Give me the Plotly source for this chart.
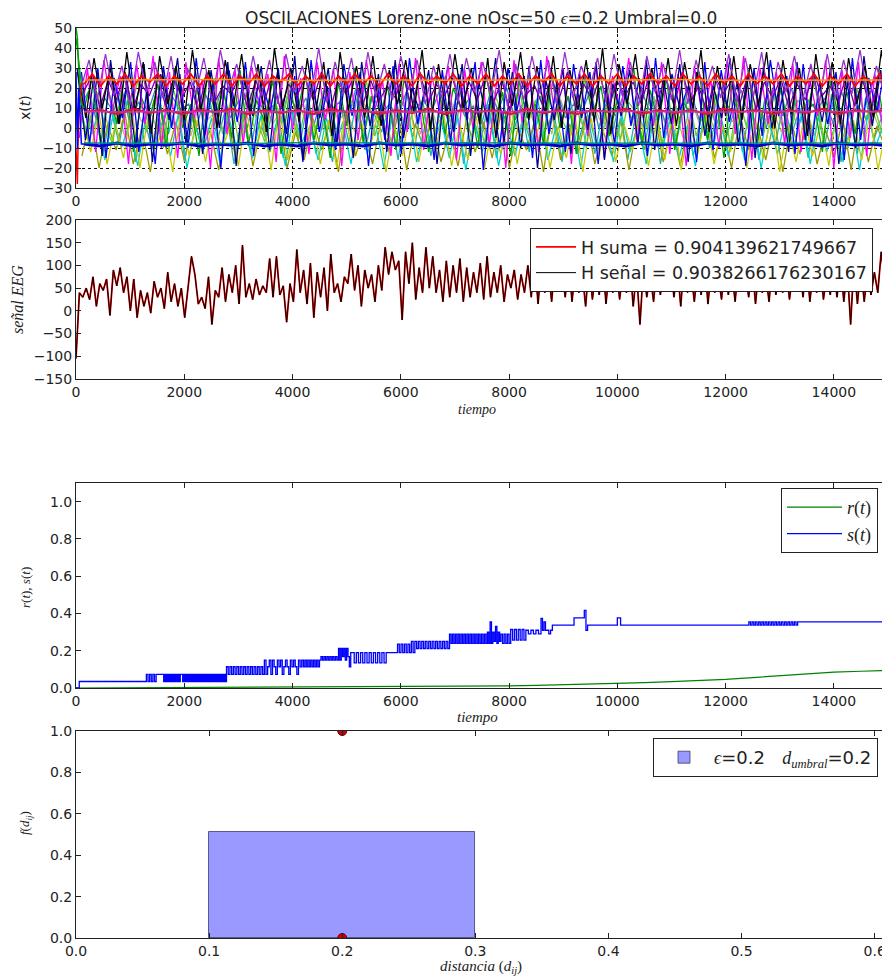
import numpy as np
import plotly.graph_objects as go

W, H = 890, 978
OFF = 8                     # page body margin of the browser
T_MAX = 15000

# ---------------- Panel 1: oscillators x(t) (values read/estimated from picture) ----------------
osc_purple = ("20 34 14 37 16 31 12 38 18 33 15 36 11 30 17 35 13 39 19 32 14 36 16 34 12 37 18 31 15 40 "
              "13 33 17 35 11 38 16 32 14 36 19 34 12 31 15 37 13 35 18 33 16 39 11 32 14 36 17 34 12 38 "
              "15 31 19 35 13 37 16 33 11 36 18 32 14 39 12 34 17 31 15 37 13 35 16 38 11 33 18 36 14 32 "
              "12 37 15 34 17 39 13 31 16 35")
osc_black = ("28 5 35 10 30 2 38 8 33 -3 36 12 31 4 39 9 29 0 34 11 37 6 32 -2 40 10 30 3 35 7 "
             "33 -4 38 9 31 5 36 1 29 12 34 8 39 -1 32 6 37 10 30 2 35 -5 33 11 38 4 31 7 36 0 "
             "29 9 34 3 40 -3 32 12 37 5 30 8 35 1 33 10 39 -2 31 6 36 4 32 11 38 0 34 7 30 -4 "
             "37 9 33 2 35 12 31 5 39 8")
osc_blue = ("28 -8 30 -15 25 5 33 -12 20 -18 31 0 27 -10 35 -5 22 -20 29 3 33 -14 24 8 30 -9 26 -17 34 -2 "
            "21 -11 32 6 28 -19 25 -6 31 -13 35 2 23 -16 29 -7 27 4 33 -21 20 -10 30 7 26 -15 34 -3 24 -12 "
            "32 5 28 -18 22 -8 31 1 25 -14 35 -5 27 9 21 -17 33 -11 29 3 24 -19 30 -4 34 6 26 -13 32 -9 "
            "23 2 28 -16 35 -6 25 8 31 -20")
osc_magenta = ("-5 30 -12 34 8 26 -18 32 2 36 -10 28 -15 33 5 24 -20 35 -3 29 -8 31 10 27 -17 36 -1 25 -13 33 "
               "4 30 -19 28 -6 34 9 23 -14 32 -2 35 -11 26 7 31 -16 29 0 33 -9 27 -20 34 3 25 -12 36 6 30 "
               "-18 28 -4 32 -15 26 8 35 -7 29 1 33 -13 27 -19 31 5 24 -10 34 -3 36 -16 30 2 28 -8 32 -12 25 "
               "6 34 -20 29 -5 33 -14 27 0 31")
osc_yellow = ("5 -12 8 -18 2 -15 10 -20 6 -10 3 -22 9 -14 4 -17 7 -11 1 -19 8 -13 5 -21 10 -16 2 -12 6 -18 "
              "4 -20 9 -15 3 -11 7 -22 1 -14 10 -17 5 -12 8 -19 2 -16 6 -21 3 -13 9 -18 4 -10 7 -20 1 -15 "
              "8 -22 5 -14 10 -17 2 -11 6 -19 4 -16 9 -21 3 -13 7 -18 1 -12 10 -20 5 -15 8 -22 2 -17 6 -14 "
              "3 -19 9 -11 4 -16 7 -21 1 -13")
osc_cyan = ("10 -6 4 -16 7 -10 2 -19 6 -8 3 -14 8 -20 1 -11 5 -17 7 -9 2 -15 6 -12 4 -19 8 -7 1 -16 "
            "5 -10 3 -18 7 -13 2 -20 6 -11 8 -17 1 -9 4 -15 6 -21 3 -12 7 -19 2 -14 5 -8 8 -16 1 -13 "
            "4 -20 6 -10 3 -17 7 -12 2 -18 8 -9 5 -15 1 -19 6 -11 4 -14 3 -16 7 -20 2 -13 5 -10 8 -18 "
            "6 -12 1 -17 4 -21 7 -9 3 -15")
osc_green = ("45 10 25 -8 18 2 28 -12 15 5 22 -10 30 0 12 -14 26 6 19 -5 29 -9 14 3 24 -13 17 8 27 -6 "
             "11 -15 23 1 30 -7 16 4 21 -11 25 7 13 -12 28 -3 20 9 15 -10 27 2 18 -14 24 5 12 -8 29 0 "
             "16 -13 26 6 21 -4 14 8 30 -9 19 3 25 -11 13 7 28 -6 17 -15 23 1 29 -10 15 4 20 -7 26 9 "
             "12 -12 24 5 18 -3 27 2 16 -8")
osc_teal = ("15 -5 12 -14 9 -8 14 -17 6 -11 11 -3 13 -16 8 -10 15 -6 10 -18 7 -12 12 -4 14 -15 9 -9 13 -13 "
            "6 -17 11 -7 15 -11 8 -2 12 -16 10 -10 14 -14 7 -6 13 -18 9 -8 12 -15 6 -3 11 -12 15 -9 8 -17 "
            "14 -7 9 -13 10 -4 12 -16 7 -11 13 -18 8 -6 15 -14 6 -10 11 -5 9 -12 14 -16 7 -8 12 -3 10 -15 "
            "11 -9 13 -17 8 -13 15 -6 6 -12")
osc_khaki = ("2 12 -3 14 0 10 -5 13 3 9 -2 15 1 11 -4 12 4 8 -1 14 0 10 -3 13 2 9 -5 15 3 11 "
             "-1 12 4 8 -2 14 0 10 -4 13 3 11 -3 15 1 9 -1 12 4 10 -5 14 2 8 -2 13 0 11 -3 15 "
             "4 9 -1 12 3 10 -4 14 1 8 -2 13 0 11 -5 15 2 9 -3 12 3 10 -1 14 4 8 -2 13 0 11 "
             "-4 15 1 9 -3 12 2 10 -1 14")
osc_violet = ("18 26 10 24 14 28 9 22 16 27 11 25 15 23 8 28 13 21 17 26 10 24 12 27 9 22 16 25 14 28 "
              "8 23 17 26 11 24 13 21 15 27 9 28 12 22 16 25 10 23 14 26 13 24 8 27 17 21 11 25 15 28 "
              "10 22 14 26 9 24 16 23 12 27 15 25 11 28 13 21 8 26 17 24 12 27 9 23 15 25 10 22 14 28 "
              "16 21 13 26 11 24 8 27 12 23")
osc_navy = ("30 -6 26 -14 34 2 23 -10 32 -17 27 4 35 -8 21 -13 29 0 33 -19 24 6 31 -11 28 -3 36 -16 22 5 "
            "30 -9 25 -15 33 1 27 -12 34 -5 20 7 29 -18 26 -2 32 -14 23 3 35 -7 28 -10 31 -20 24 4 30 -13 "
            "27 -1 33 -16 22 6 29 -8 34 -11 25 2 32 -17 28 -4 21 5 35 -9 26 -15 31 0 24 -12 33 -6 27 3 "
            "30 -18 23 -10 36 1 29 -14")
osc_olive = ("-14 6 -20 2 -11 8 -18 0 -22 5 -13 3 -17 7 -10 -1 -21 4 -15 8 -19 1 -12 6 -20 -2 -16 5 -11 3 "
             "-22 7 -14 0 -18 4 -13 8 -21 2 -10 6 -17 -1 -19 5 -12 3 -15 7 -20 0 -11 4 -22 8 -16 2 -13 6 "
             "-18 -2 -14 5 -21 3 -10 7 -17 1 -19 4 -12 8 -15 0 -20 6 -11 2 -16 5 -22 3 -13 7 -18 -1 -14 4 "
             "-21 8 -17 1 -10 6")
osc_lime = ("12 -4 20 3 -8 18 6 24 -2 15 -10 22 8 -6 19 1 25 -3 14 -9 21 5 -7 17 2 23 -5 13 -1 20 "
            "7 -10 16 4 24 -4 11 -8 22 0 18 6 -6 15 3 25 -2 12 -9 19 8 -5 21 1 14 -7 23 5 -3 17 "
            "-10 20 2 24 -6 13 7 -1 16 -8 22 4 18 -4 11 6 25 -9 15 0 21 -2 19 3 -7 14 8 23 -5 17 "
            "1 -10 20 5 12 -3 24")
osc_steel = ("10 18 4 15 8 20 2 13 6 19 3 16 9 12 1 17 7 20 5 14 0 18 8 11 3 19 6 15 2 17 "
             "9 13 4 20 1 16 7 12 5 18 0 14 8 19 3 15 6 11 2 17 9 20 4 13 7 16 1 18 5 12 "
             "8 19 0 14 6 17 3 20 9 15 2 11 7 18 4 16 1 13 8 19 5 12 0 17 6 20 3 14 9 15 "
             "2 18 7 11 4 16 1 19")
band_red = ("22 27 21 26 22 27 21 26 23 27 21 26 22 27 21 26 22 27 21 26 22 27 21 26 23 27 21 26 22 "
            "27 21 26 22 27 22 26 21 27 22 26 21 27 22 26 22 27 21 26 22 27 21 26 22 27 21 26 23 27 21 "
            "26 22 27 21 26 22 27 21 26 22 27 22 26 21 27 22 26 21 27 22 26 21 27 22 26 22 27 21 26 22 "
            "27 21 26 22 27 21 26 22 27 21")
band_orange = "24 24.1 23.9 24 24.2 23.8 24 24.1 23.9 24 24 24.1 23.9 24 24.2 23.9 24 24 24.1 24"
band_crimson = ("8 9 7 9.5 7.5 9 7 9 8 9.5 7 9 7.5 9 7 9.5 8 9 7 9 7.5 9.5 7 9 8 9 7 9.5 7.5 9 "
                "7 9 8 9.5 7 9 7.5 9 7 9.5 8 9 7 9 7.5 9.5 7 9 8 9")
band_pink = "8.2 8 8.3 8.1 8 8.2 8.1 8.3 8 8.2 8.1 8 8.2 8.3 8.1 8 8.2 8.1 8 8.2"
band_blue = ("-8 -9 -7.5 -9 -8 -8.5 -7.5 -9 -8 -8.5 -7.5 -9 -8 -9 -7.5 -8.5 -8 -9 -7.5 -8.5 -8 -9 -7.5 -8.5 -8 "
             "-9 -7.5 -8.5 -8 -9 -7.5 -8.5 -8 -9 -7.5 -8.5 -8 -9 -7.5 -8.5 -8 -9 -7.5 -8.5 -8 -9 -7.5 -8.5 -8 -9")
band_teal = "-7.5 -7.6 -7.4 -7.5 -7.7 -7.4 -7.5 -7.6 -7.5 -7.4 -7.5 -7.6 -7.4 -7.5 -7.6 -7.5 -7.4 -7.5 -7.6 -7.5"

transient_t = [0, 25, 50, 100, 150]
transient_green = [50, 45, 30, 12, 10]
transient_red = [-10, -28, 10, 22, 22]
transient_blue = [28, -10, 20, -8, -8]

# ---------------- Panel 2: EEG signal ----------------
eeg_signal_blocks = [
    "-105 40 30 50 25 75 10 60 45 70 -10 90 55 95 40 75",
    "0 70 -15 45 10 40 -5 65 30 50 5 85 20 60 10 50",
    "-15 55 120 80 15 30 5 75 -30 45 30 95 20 80 40 100",
    "15 145 30 60 25 70 35 55 40 115 30 120 35 55 -25 60",
    "20 135 40 90 15 105 -15 85 30 95 0 125 40 60 20 75",
    "60 125 45 100 10 90 50 80 20 100 45 140 80 130 90 110",
    "-20 130 60 150 25 95 40 140 50 120 40 90 20 110 30 100",
    "40 115 20 95 30 85 40 105 25 120 30 85 40 100 20 80",
    "50 90 25 80 40 100 30 115 15 105 40 95 20 110 45 90",
    "30 110 20 95 40 85 10 100 25 90 35 115 15 95 40 105",
    "25 90 40 110 10 85 -30 95 30 80 20 105 35 90 45 100",
    "30 95 10 110 40 85 20 100 35 115 15 90 40 80 25 105",
    "35 90 20 100 45 85 30 110 15 95 40 80 20 105 35 90",
    "40 100 25 85 45 95 30 110 20 90 40 115 25 85 35 100",
    "30 105 20 95 -30 110 15 100 20 90 35 85 40 130 70 150",
]
H_suma = 0.904139621749667
H_senal = 0.9038266176230167

# ---------------- Panel 3: r(t), s(t) ----------------
r_t = [0, 1000, 2000, 3000, 4000, 5000, 6000, 7000, 8000, 8500, 9000, 9500, 10000, 10500,
       11000, 11500, 12000, 12500, 13000, 13500, 14000, 14500, 15000]
r_v = [0, 0.001, 0.002, 0.003, 0.004, 0.005, 0.006, 0.008, 0.011, 0.014, 0.017, 0.021, 0.025,
       0.029, 0.034, 0.039, 0.046, 0.056, 0.066, 0.076, 0.085, 0.09, 0.094]

# segments: (t_start, t_end, levels visited in turn within the segment)
s_segments = [
    (0, 60, "0"),
    (60, 1300, "0.035"),
    (1300, 1480, "0.073 0.035 0.073 0.035 0.073 0.035"),
    (1480, 1620, "0.073"),
    (1620, 1950, "0.035 0.073 0.035 0.073 0.035 0.073 0.035 0.073 0.035 0.073 0.035 0.073 0.035 0.073"),
    (1950, 2780, "0.073 0.035 0.073 0.035 0.073 0.035 0.073 0.035 0.073 0.035 0.073 0.035 0.073 0.035 "
                 "0.073 0.035 0.073 0.035 0.073 0.035 0.073 0.035 0.073 0.035 0.073 0.035 0.073 0.035 "
                 "0.073 0.035 0.073 0.035 0.073 0.035 0.073 0.035 0.073 0.035 0.073 0.035"),
    (2780, 3480, "0.114 0.073 0.114 0.073 0.114 0.073 0.114 0.073 0.114 0.073 0.114 0.073 0.114 0.073 "
                 "0.114 0.073 0.114 0.073 0.114 0.073 0.114 0.073"),
    (3480, 4200, "0.15 0.073 0.114 0.15 0.073 0.15 0.114 0.073 0.15 0.114 0.15 0.073 0.114 0.15 0.114 "
                 "0.073 0.15 0.114 0.15 0.114 0.073 0.15 0.114 0.15"),
    (4200, 4850, "0.114 0.15 0.114 0.15 0.114 0.15 0.114 0.15 0.114 0.15 0.114 0.15 0.168 0.15 0.168 "
                 "0.15 0.168 0.15 0.168 0.15 0.168 0.15 0.168 0.15"),
    (4850, 5100, "0.212 0.15 0.212 0.168 0.212 0.15 0.212 0.168 0.114 0.19"),
    (5100, 5730, "0.19 0.135 0.19 0.135 0.19 0.135 0.19 0.135 0.19 0.135 0.19 0.135 0.19 0.135 0.19 0.135"),
    (5730, 5940, "0.19"),
    (5940, 6900, "0.235 0.19 0.235 0.19 0.235 0.19 0.235 0.19 0.25 0.19 0.25 0.212 0.25 0.212 0.25 "
                 "0.212 0.25 0.212 0.25 0.212 0.25 0.212 0.25 0.212 0.25 0.212 0.25 0.212 0.25 0.212"),
    (6900, 7600, "0.289 0.239 0.289 0.239 0.289 0.239 0.289 0.239 0.289 0.239 0.289 0.239 0.289 0.239 "
                 "0.289 0.239 0.289 0.239 0.289 0.239 0.289 0.239 0.289 0.239 0.289 0.239"),
    (7600, 7850, "0.3 0.239 0.355 0.239 0.3 0.25 0.33 0.239 0.3 0.25"),
    (7850, 8030, "0.289 0.239 0.289 0.239 0.289 0.239"),
    (8030, 8310, "0.314 0.257 0.314 0.257 0.314 0.257 0.314 0.257"),
    (8310, 8590, "0.31 0.29 0.31 0.29 0.31 0.29"),
    (8590, 8700, "0.373 0.31 0.355 0.31"),
    (8700, 8800, "0.31 0.29 0.31"),
    (8800, 9200, "0.337"),
    (9200, 9390, "0.376"),
    (9390, 9450, "0.417 0.31"),
    (9450, 10000, "0.337"),
    (10000, 10060, "0.376"),
    (10060, 12430, "0.337"),
    (12430, 13330, "0.355 0.337 0.355 0.337 0.355 0.337 0.355 0.337 0.355 0.337 0.355 0.337 0.355 0.337 "
                   "0.355 0.337 0.355 0.337 0.355 0.337 0.355 0.337 0.355 0.337 0.355 0.337 0.355 0.337 0.355 0.337"),
    (13330, 15000, "0.355"),
]

# ---------------- Panel 4: histogram of distances ----------------
hist_left = [0.1]
hist_right = [0.3]
hist_height = [0.51]
umbral_x = [0.2, 0.2]
umbral_y = [0.0, 1.0]


def vals(s):
    return [float(v) for v in s.split()]


fig = go.Figure()

# ---- panel 1 traces ----
spike_series = [
    (osc_khaki, "#bdb76b", 0), (osc_steel, "#4682b4", 70), (osc_teal, "#20b2aa", 40),
    (osc_olive, "#9a9a00", 110), (osc_cyan, "#00d0d0", 80), (osc_yellow, "#c8c800", 120),
    (osc_lime, "#66cc33", 50), (osc_green, "#00a000", 0), (osc_magenta, "#ff00ff", 60),
    (osc_blue, "#0000ff", 100), (osc_navy, "#000090", 20), (osc_violet, "#7000a0", 140),
    (osc_black, "#000000", 30), (osc_purple, "#9932cc", 90),
]
for s, col, shift in spike_series:
    y = vals(s)
    t = np.linspace(0, T_MAX, len(y)) + shift
    fig.add_trace(go.Scatter(x=t, y=y, mode="lines", line=dict(color=col, width=1.3),
                             xaxis="x", yaxis="y", showlegend=False, hoverinfo="skip"))

band_series = [
    (band_red, "#ff0000", 1.8), (band_orange, "#ff9900", 1.5), (band_crimson, "#dc143c", 2.2),
    (band_pink, "#cc3399", 1.5), (band_blue, "#0000cd", 3.0), (band_teal, "#008b8b", 1.5),
]
for s, col, w in band_series:
    y = vals(s)
    t = np.linspace(150, T_MAX, len(y))
    fig.add_trace(go.Scatter(x=t, y=y, mode="lines", line=dict(color=col, width=w),
                             xaxis="x", yaxis="y", showlegend=False, hoverinfo="skip"))
for yv, col in [(transient_green, "#00a000"), (transient_red, "#ff0000"), (transient_blue, "#0000ff")]:
    fig.add_trace(go.Scatter(x=transient_t, y=yv, mode="lines", line=dict(color=col, width=1.5),
                             xaxis="x", yaxis="y", showlegend=False, hoverinfo="skip"))

# ---- panel 2 traces ----
eeg_signal = []
for b in eeg_signal_blocks:
    eeg_signal += vals(b)
eeg_sum = list(eeg_signal)
t_eeg = np.linspace(0, T_MAX, len(eeg_signal))
fig.add_trace(go.Scatter(x=t_eeg, y=eeg_sum, mode="lines", line=dict(color="#ff0000", width=1.8),
                         name=f"H suma = {H_suma}", xaxis="x2", yaxis="y2", legend="legend"))
fig.add_trace(go.Scatter(x=t_eeg, y=eeg_signal, mode="lines", line=dict(color="#000000", width=1.0),
                         name=f"H señal = {H_senal}", xaxis="x2", yaxis="y2", legend="legend"))

# ---- panel 3 traces ----
s_t, s_v = [], []
for t0, t1, lev in s_segments:
    lv = vals(lev)
    n = len(lv)
    for k, v in enumerate(lv):
        s_t.append(t0 + k * (t1 - t0) / n)
        s_v.append(v)
s_t.append(T_MAX)
s_v.append(s_v[-1])
fig.add_trace(go.Scatter(x=r_t, y=r_v, mode="lines", line=dict(color="#008000", width=1.2),
                         name="<i>r</i>(<i>t</i>)", xaxis="x3", yaxis="y3", legend="legend2"))
fig.add_trace(go.Scatter(x=s_t, y=s_v, mode="lines", line=dict(color="#0000ff", width=1.3, shape="hv"),
                         name="<i>s</i>(<i>t</i>)", xaxis="x3", yaxis="y3", legend="legend2"))

# ---- panel 4 traces ----
centers = [(a + b) / 2 for a, b in zip(hist_left, hist_right)]
widths = [b - a for a, b in zip(hist_left, hist_right)]
fig.add_trace(go.Bar(x=centers, y=hist_height, width=widths,
                     marker=dict(color="rgba(0,0,255,0.4)", line=dict(color="rgba(40,40,90,0.7)", width=1)),
                     name=("<span style='font-family:Liberation Serif'><i>ϵ</i></span>=0.2&nbsp;&nbsp;&nbsp;"
                           "<span style='font-family:Liberation Serif'><i>d</i><sub><i>umbral</i></sub></span>=0.2"),
                     xaxis="x4", yaxis="y4", legend="legend3"))
fig.add_trace(go.Scatter(x=umbral_x, y=umbral_y, mode="markers",
                         marker=dict(color="#cc0000", size=9, line=dict(color="#660000", width=1)),
                         xaxis="x4", yaxis="y4", showlegend=False, cliponaxis=True))

FW, FH = W - OFF, H - OFF


def px_x(p):
    return (p - OFF) / FW


def px_y(p):
    return 1 - (p - OFF) / FH


XDOM = [px_x(76), px_x(888)]
tickfont = dict(family="DejaVu Sans", size=14, color="#222")
base = dict(showline=True, linecolor="#222", linewidth=1, mirror="ticks", ticks="inside", ticklen=5,
            tickcolor="#222", tickfont=tickfont, zeroline=False, showgrid=False, automargin=False)
grid = dict(showgrid=True, gridcolor="#000", griddash="dot", gridwidth=1)

layout = dict(
    width=FW, height=FH, autosize=False, margin=dict(l=0, r=0, t=0, b=0),
    paper_bgcolor="white", plot_bgcolor="white", bargap=0,
    xaxis=dict(base, **grid, domain=XDOM, anchor="y", range=[0, T_MAX], dtick=2000, tickformat="d"),
    yaxis=dict(base, **grid, domain=[px_y(188), px_y(28)], anchor="x", range=[-30, 50], dtick=10),
    xaxis2=dict(base, domain=XDOM, anchor="y2", range=[0, T_MAX], dtick=2000, tickformat="d"),
    yaxis2=dict(base, domain=[px_y(379), px_y(220)], anchor="x2", range=[-150, 200], dtick=50),
    xaxis3=dict(base, domain=XDOM, anchor="y3", range=[0, T_MAX], dtick=2000, tickformat="d"),
    yaxis3=dict(base, domain=[px_y(688), px_y(483)], anchor="x3", range=[0, 1.1],
                tickvals=[0, 0.2, 0.4, 0.6, 0.8, 1.0], tickformat=".1f"),
    xaxis4=dict(base, domain=XDOM, anchor="y4", range=[0, 0.61], dtick=0.1, tickformat=".1f"),
    yaxis4=dict(base, domain=[px_y(938), px_y(731)], anchor="x4", range=[0, 1.0], dtick=0.2, tickformat=".1f"),
    legend=dict(x=px_x(530), y=px_y(228), xanchor="left", yanchor="top", bgcolor="white", itemwidth=40,
                bordercolor="#222", borderwidth=1, font=dict(family="DejaVu Sans", size=17.5, color="#222")),
    legend2=dict(x=px_x(878), y=px_y(488), xanchor="right", yanchor="top", bgcolor="white", itemwidth=55,
                 bordercolor="#222", borderwidth=1, font=dict(family="Liberation Serif", size=18, color="#222")),
    legend3=dict(x=px_x(878), y=px_y(738), xanchor="right", yanchor="top", bgcolor="white", itemwidth=50,
                 bordercolor="#222", borderwidth=1, font=dict(family="DejaVu Sans", size=18, color="#222")),
)
fig.update_layout(**layout)

serif = "Liberation Serif"
ann = [
    dict(text="OSCILACIONES Lorenz-one nOsc=50 <span style='font-family:Liberation Serif'><i>ϵ</i></span>=0.2 Umbral=0.0",
         x=px_x(481), y=px_y(18), font=dict(family="DejaVu Sans", size=17, color="#222")),
    dict(text="x(<i>t</i>)", x=px_x(25), y=px_y(108), textangle=-90,
         font=dict(family="DejaVu Sans", size=14, color="#222")),
    dict(text="<i>señal EEG</i>", x=px_x(17), y=px_y(300), textangle=-90,
         font=dict(family=serif, size=16, color="#222")),
    dict(text="<i>tiempo</i>", x=px_x(477), y=px_y(409), font=dict(family=serif, size=14, color="#222")),
    dict(text="<i>r</i>(<i>t</i>), <i>s</i>(<i>t</i>)", x=px_x(25), y=px_y(588), textangle=-90,
         font=dict(family=serif, size=13, color="#222")),
    dict(text="<i>tiempo</i>", x=px_x(477), y=px_y(717), font=dict(family=serif, size=15, color="#222")),
    dict(text="<i>f</i>(<i>d</i><sub><i>ij</i></sub>)", x=px_x(25), y=px_y(823), textangle=-90,
         font=dict(family=serif, size=13, color="#222")),
    dict(text="<i>distancia</i> (<i>d</i><sub><i>ij</i></sub>)", x=px_x(481), y=px_y(967),
         font=dict(family=serif, size=15, color="#222")),
]
for a in ann:
    a.update(xref="paper", yref="paper", showarrow=False, xanchor="center", yanchor="middle")
fig.update_layout(annotations=ann)

fig.write_html("out.html")
